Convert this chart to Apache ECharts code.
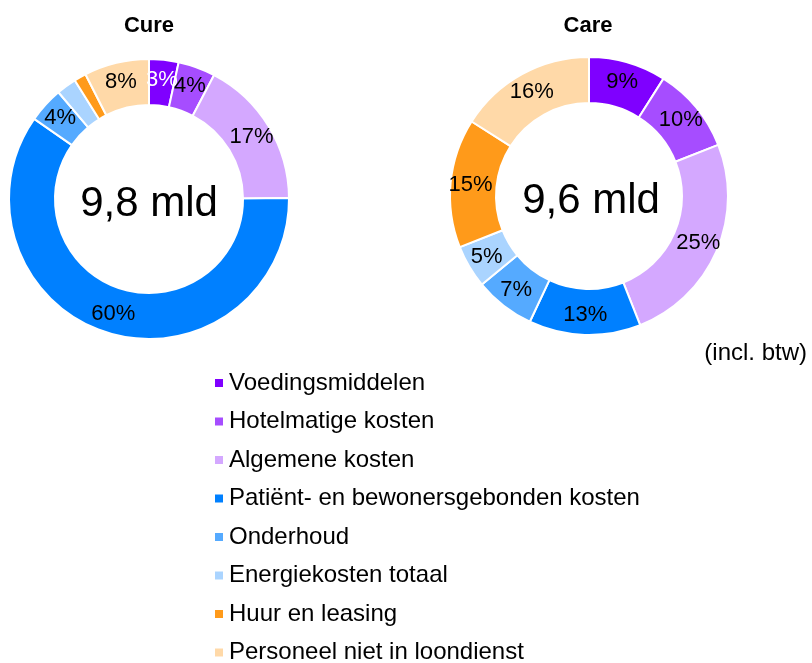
<!DOCTYPE html>
<html>
<head>
<meta charset="utf-8">
<script src="https://cdn.jsdelivr.net/npm/echarts@6/dist/echarts.min.js"></script>
<style>
html,body{margin:0;padding:0;background:#fff;}
#chart{width:812px;height:663px;}
</style>
</head>
<body>
<div id="chart"></div>
<script>
var categories = ['Voedingsmiddelen','Hotelmatige kosten','Algemene kosten','Patiënt- en bewonersgebonden kosten','Onderhoud','Energiekosten totaal','Huur en leasing','Personeel niet in loondienst'];
var cureValues = [3.4, 4.3, 17.2, 59.8, 4.1, 2.3, 1.4, 7.5];
var careValues = [9, 10, 25, 13, 7, 5, 15, 16];
var colors = ['#7F00FF','#A64DFF','#D4A8FF','#0080FF','#55AAFF','#AAD4FF','#FF9A1A','#FFD9A8'];
var titles = ['Cure','Care'];
var totals = ['9,8 mld','9,6 mld'];
var note = '(incl. btw)';

var FONT = '"Liberation Sans", Arial, sans-serif';

function buildData(vals, whiteFirst){
  return categories.map(function(c,i){
    var d = {name:c, value:vals[i], itemStyle:{color:colors[i]}};
    if (whiteFirst && i===0) d.label = {color:'#fff'};
    return d;
  });
}
function fmt(p){ return p.percent < 3 ? '' : Math.round(p.percent) + '%'; }

var chart = echarts.init(document.getElementById('chart'));
chart.setOption({
  animation:false,
  backgroundColor:'#fff',
  title:[
    {text:titles[0], left:144, top:10, textAlign:'center', textStyle:{fontFamily:FONT, fontSize:22, fontWeight:'bold', color:'#000'}},
    {text:titles[1], left:583, top:10, textAlign:'center', textStyle:{fontFamily:FONT, fontSize:22, fontWeight:'bold', color:'#000'}},
    {text:totals[0], left:144, top:178, textAlign:'center', textStyle:{fontFamily:FONT, fontSize:42, fontWeight:'normal', color:'#000'}},
    {text:totals[1], left:586, top:175, textAlign:'center', textStyle:{fontFamily:FONT, fontSize:42, fontWeight:'normal', color:'#000'}},
    {text:note, right:0, top:336, textStyle:{fontFamily:FONT, fontSize:24, fontWeight:'normal', color:'#000'}}
  ],
  legend:{
    orient:'vertical', left:208, top:366, height:300,
    icon:'rect', itemWidth:10, itemHeight:10, itemGap:14.5,
    data:categories,
    textStyle:{fontFamily:FONT, fontSize:24, color:'#000', lineHeight:24}
  },
  series:[
    {type:'pie', center:[149,199], radius:[94,140], startAngle:90, clockwise:true,
     itemStyle:{borderColor:'#fff', borderWidth:2},
     label:{show:true, position:'inside', formatter:fmt, fontFamily:FONT, fontSize:22, color:'#000'},
     labelLayout:{hideOverlap:false},
     labelLine:{show:false}, emphasis:{disabled:true},
     data:buildData(cureValues, true)},
    {type:'pie', center:[589,196], radius:[93,139], startAngle:90, clockwise:true,
     itemStyle:{borderColor:'#fff', borderWidth:2},
     label:{show:true, position:'inside', formatter:fmt, fontFamily:FONT, fontSize:22, color:'#000'},
     labelLayout:{hideOverlap:false},
     labelLine:{show:false}, emphasis:{disabled:true},
     data:buildData(careValues, false)}
  ]
});
</script>
</body>
</html>
